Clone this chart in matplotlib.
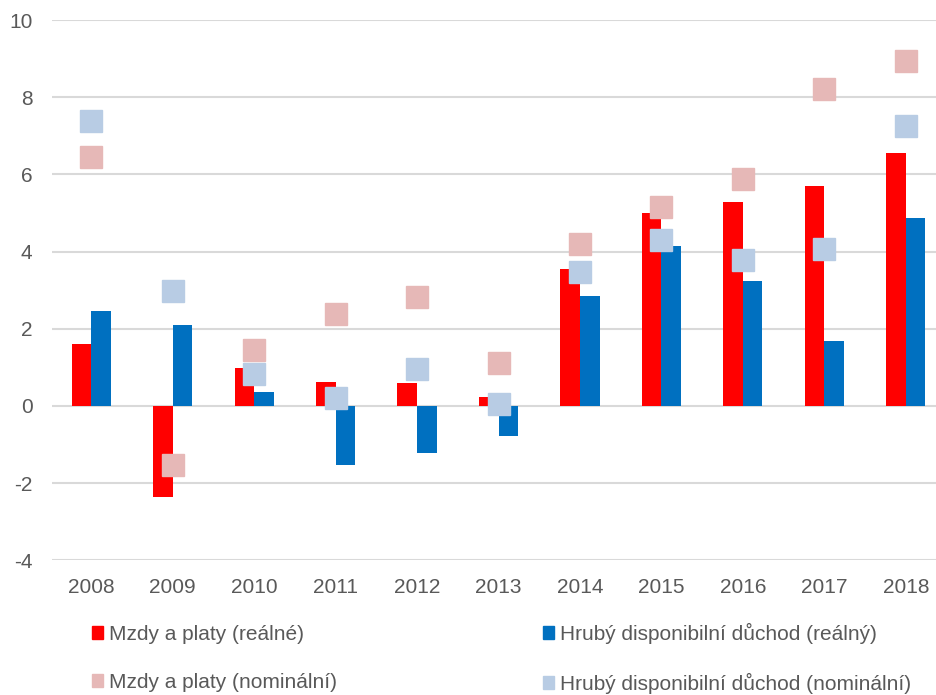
import matplotlib.pyplot as plt
import numpy as np
from matplotlib.patches import Patch

plt.rcParams['font.family'] = ['Liberation Sans', 'DejaVu Sans']
plt.rcParams['axes.unicode_minus'] = False

years = ['2008', '2009', '2010', '2011', '2012', '2013', '2014', '2015', '2016', '2017', '2018']
wages_real = [1.60, -2.37, 0.98, 0.62, 0.60, 0.24, 3.55, 4.99, 5.29, 5.71, 6.55]
income_real = [2.47, 2.10, 0.36, -1.52, -1.22, -0.79, 2.85, 4.15, 3.23, 1.69, 4.88]
wages_nominal = [6.45, -1.54, 1.45, 2.39, 2.83, 1.12, 4.19, 5.15, 5.88, 8.22, 8.95]
income_nominal = [7.38, 2.99, 0.83, 0.20, 0.95, 0.05, 3.46, 4.31, 3.79, 4.08, 7.26]

labels = ['Mzdy a platy (reálné)', 'Mzdy a platy (nominální)',
          'Hrubý disponibilní důchod (reálný)', 'Hrubý disponibilní důchod (nominální)']
c_red = '#FF0000'
c_blue = '#0070C0'
c_pink = '#E6B8B7'
c_lblue = '#B8CCE4'

fig = plt.figure(figsize=(9.36, 6.95), dpi=100)
ax = fig.add_axes([0.0556, 0.194, 0.9444, 0.777])

x = np.arange(len(years))
w = 0.24
ax.bar(x - w / 2, wages_real, w, color=c_red, zorder=2)
ax.bar(x + w / 2, income_real, w, color=c_blue, zorder=2)
ax.plot(x, wages_nominal, 's', color=c_pink, markersize=16, linestyle='none', zorder=3)
ax.plot(x, income_nominal, 's', color=c_lblue, markersize=16, linestyle='none', zorder=3)

ax.set_ylim(-4, 10)
ax.set_yticks(range(-4, 11, 2))
ax.set_xlim(-0.48, 10.37)
ax.set_xticks(x)
ax.set_xticklabels(years)
ax.grid(axis='y', color='#d9d9d9', linewidth=1.5, zorder=0)
ax.set_axisbelow(True)
for s in ax.spines.values():
    s.set_visible(False)
ax.tick_params(length=0, labelsize=15, colors='#595959')
ax.tick_params(axis='y', pad=14)
ax.tick_params(axis='x', pad=13)

h = [Patch(color=c_red), Patch(color=c_pink), Patch(color=c_blue), Patch(color=c_lblue)]
leg_kw = dict(frameon=False, fontsize=15, handlelength=0.55, handleheight=0.6,
              handletextpad=0.25, labelspacing=1.4, borderpad=0, borderaxespad=0,
              loc='upper left')
for t in [fig.legend(h[:2], labels[:2], bbox_to_anchor=(0.0983, 0.101), **leg_kw),
          fig.legend(h[2:], labels[2:], bbox_to_anchor=(0.5801, 0.1043), **leg_kw)]:
    for txt in t.get_texts():
        txt.set_color('#595959')

fig.savefig('out.png', dpi=100)
